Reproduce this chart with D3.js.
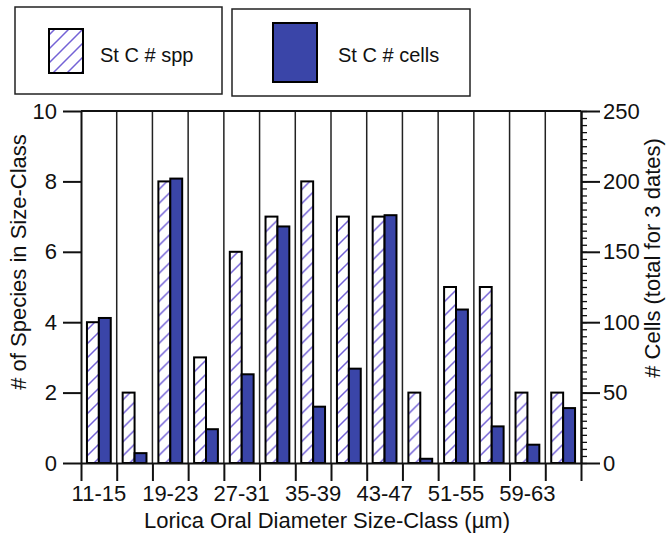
<!DOCTYPE html>
<html>
<head>
<meta charset="utf-8">
<script src="https://cdn.jsdelivr.net/npm/d3@7"></script>
<style>
  body { margin: 0; background: #fff; }
  svg { display: block; font-family: "Liberation Sans", Arial, sans-serif; }
</style>
</head>
<body>
<div id="chart"></div>
<script>
// size classes (um)
var sizeClasses = ["11-15","15-19","19-23","23-27","27-31","31-35","35-39",
                   "39-43","43-47","47-51","51-55","55-59","59-63","63-67"];
// St C number of species per class (left axis)
var sppCounts = [4, 2, 8, 3, 6, 7, 8, 7, 7, 2, 5, 5, 2, 2];
// St C number of cells, total for 3 dates (right axis)
var cellCounts = [103, 7, 202, 24, 63, 168, 40, 67, 176, 3, 109, 26, 13, 39];
var labelledClasses = sizeClasses.filter((d, i) => i % 2 == 0);
var sppTicks = [0, 2, 4, 6, 8, 10];
var cellTicks = [0, 50, 100, 150, 200, 250];

var W = 668, H = 537;
var plotL = 81, plotR = 581, plotT = 111, plotB = 463;
var blue = "#3a45a8", hatchCol = "#7462d6";

var svg = d3.select("#chart").append("svg")
    .attr("width", W)
    .attr("height", H);

var defs = svg.append("defs");
var pat = defs.append("pattern")
    .attr("id", "hatch")
    .attr("patternUnits", "userSpaceOnUse")
    .attr("width", 14)
    .attr("height", 14);
pat.append("rect").attr("width", 14).attr("height", 14).attr("fill", "#fff");
pat.append("path")
    .attr("d", "M0,14 L14,0 M-3,3 L3,-3 M11,17 L17,11")
    .attr("stroke", hatchCol)
    .attr("stroke-width", 1.5);

var x = d3.scaleBand().domain(sizeClasses).range([plotL, plotR]).padding(0);
var xSub = d3.scaleBand().domain(["spp", "cells"]).range([0, x.bandwidth()])
    .paddingInner(0).paddingOuter(0.5);
var xEdge = d3.scaleLinear().domain([0, sizeClasses.length]).range([plotL, plotR]);
var yL = d3.scaleLinear().domain([0, 10]).range([plotB, plotT]);
var yR = d3.scaleLinear().domain([0, 250]).range([plotB, plotT]);

// vertical grid at class boundaries
svg.append("g")
    .selectAll("line")
    .data(d3.range(1, sizeClasses.length))
    .join("line")
    .attr("x1", d => xEdge(d)).attr("x2", d => xEdge(d))
    .attr("y1", plotT).attr("y2", plotB)
    .attr("stroke", "#222")
    .attr("stroke-width", 1.5);

// top frame line
svg.append("line")
    .attr("x1", plotL).attr("x2", plotR)
    .attr("y1", plotT).attr("y2", plotT)
    .attr("stroke", "#111").attr("stroke-width", 2);

// bars
var groups = svg.append("g")
    .selectAll("g")
    .data(sizeClasses)
    .join("g")
    .attr("transform", d => `translate(${x(d)},0)`);

groups.append("rect")
    .attr("x", xSub("spp"))
    .attr("width", xSub.bandwidth())
    .attr("y", (d, i) => yL(sppCounts[i]))
    .attr("height", (d, i) => plotB - yL(sppCounts[i]))
    .attr("fill", "url(#hatch)")
    .attr("stroke", "#000")
    .attr("stroke-width", 2);

groups.append("rect")
    .attr("x", xSub("cells"))
    .attr("width", xSub.bandwidth())
    .attr("y", (d, i) => yR(cellCounts[i]))
    .attr("height", (d, i) => plotB - yR(cellCounts[i]))
    .attr("fill", blue)
    .attr("stroke", "#000")
    .attr("stroke-width", 2);

// axes
function styleAxis(g) {
    g.selectAll("path, line").attr("stroke", "#111").attr("stroke-width", 2);
    g.selectAll("text").attr("fill", "#111").style("font-size", "22px");
}

svg.append("g")
    .attr("transform", `translate(${plotL},0)`)
    .call(d3.axisLeft(yL).tickValues(sppTicks).tickSize(18).tickSizeOuter(0).tickPadding(6))
    .call(styleAxis);

// minor ticks on right axis
svg.append("g")
    .attr("transform", `translate(${plotR},0)`)
    .call(d3.axisRight(yR).tickValues(d3.range(0, 251, 5)).tickSize(6).tickSizeOuter(0).tickFormat(""))
    .call(styleAxis)
    .call(g => g.selectAll("line").attr("stroke-width", 1.3));

svg.append("g")
    .attr("transform", `translate(${plotR},0)`)
    .call(d3.axisRight(yR).tickValues(cellTicks).tickSize(19).tickSizeOuter(0).tickPadding(3))
    .call(styleAxis);

svg.append("g")
    .attr("transform", `translate(0,${plotB})`)
    .call(d3.axisBottom(xEdge).tickValues(d3.range(0, sizeClasses.length + 1)).tickSize(18).tickSizeOuter(0).tickFormat(""))
    .call(styleAxis);

svg.append("g")
    .attr("transform", `translate(0,${plotB})`)
    .call(d3.axisBottom(x).tickValues(labelledClasses).tickSize(0).tickPadding(22))
    .call(styleAxis)
    .call(g => g.select(".domain").remove());

// axis titles
svg.append("text")
    .attr("transform", `translate(${(plotL + plotR) / 2 - 4},528)`)
    .attr("text-anchor", "middle")
    .style("font-size", "22px")
    .attr("fill", "#111")
    .text("Lorica Oral Diameter Size-Class (\u00b5m)");

svg.append("text")
    .attr("transform", "translate(26,262) rotate(-90)")
    .attr("text-anchor", "middle")
    .style("font-size", "22px")
    .attr("fill", "#111")
    .text("# of Species in Size-Class");

svg.append("text")
    .attr("transform", "translate(660,258) rotate(-90)")
    .attr("text-anchor", "middle")
    .style("font-size", "22px")
    .attr("fill", "#111")
    .text("# Cells (total for 3 dates)");

// legend
var legendItems = [
    {label: "St C # spp", fill: "url(#hatch)", box: [15, 7, 207, 87], sw: [49, 29, 34, 44], tx: 100},
    {label: "St C # cells", fill: blue, box: [232, 9, 238, 87], sw: [273, 23, 44, 59], tx: 338}
];
var leg = svg.append("g")
    .selectAll("g")
    .data(legendItems)
    .join("g");
leg.append("rect")
    .attr("x", d => d.box[0]).attr("y", d => d.box[1])
    .attr("width", d => d.box[2]).attr("height", d => d.box[3])
    .attr("fill", "#fff")
    .attr("stroke", "#222")
    .attr("stroke-width", 1.5);
leg.append("rect")
    .attr("x", d => d.sw[0]).attr("y", d => d.sw[1])
    .attr("width", d => d.sw[2]).attr("height", d => d.sw[3])
    .attr("fill", d => d.fill)
    .attr("stroke", "#000")
    .attr("stroke-width", 2);
leg.append("text")
    .attr("x", d => d.tx).attr("y", 62)
    .style("font-size", "20px")
    .attr("fill", "#111")
    .text(d => d.label);
</script>
</body>
</html>
